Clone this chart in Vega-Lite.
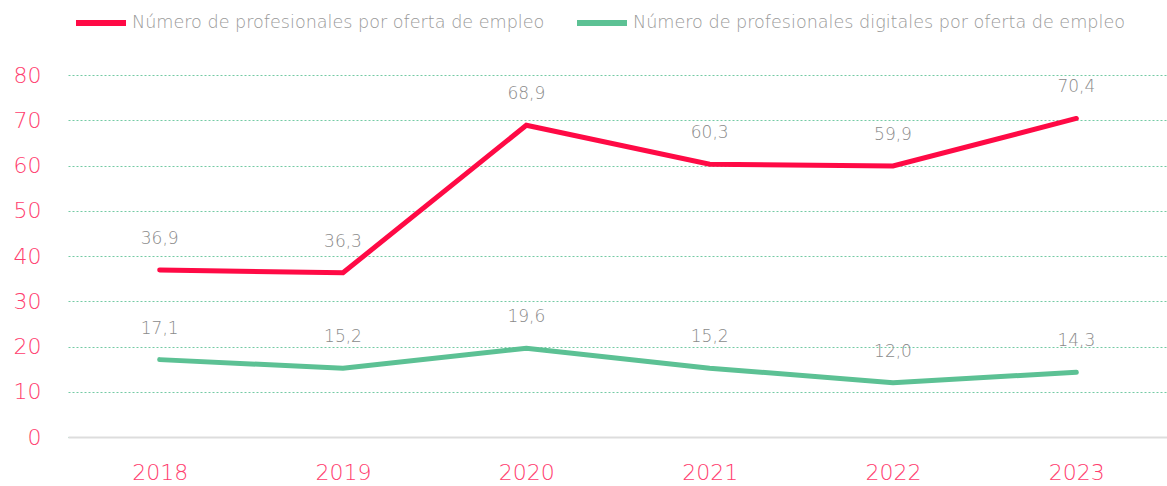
{
  "$schema": "https://vega.github.io/schema/vega-lite/v6.json",
  "width": 1100,
  "height": 362,
  "autosize": {"type": "none"},
  "padding": {"left": 68, "top": 75, "right": 0, "bottom": 49},
  "background": "white",
  "config": {
    "view": {"stroke": null},
    "font": "DejaVu Sans",
    "axis": {"labelFont": "DejaVu Sans", "labelFontWeight": 200}
  },
  "data": {
    "values": [
      {"year": "2018", "serie": "Número de profesionales por oferta de empleo", "value": 36.9, "label": "36,9"},
      {"year": "2019", "serie": "Número de profesionales por oferta de empleo", "value": 36.3, "label": "36,3"},
      {"year": "2020", "serie": "Número de profesionales por oferta de empleo", "value": 68.9, "label": "68,9"},
      {"year": "2021", "serie": "Número de profesionales por oferta de empleo", "value": 60.3, "label": "60,3"},
      {"year": "2022", "serie": "Número de profesionales por oferta de empleo", "value": 59.9, "label": "59,9"},
      {"year": "2023", "serie": "Número de profesionales por oferta de empleo", "value": 70.4, "label": "70,4"},
      {"year": "2018", "serie": "Número de profesionales digitales por oferta de empleo", "value": 17.1, "label": "17,1"},
      {"year": "2019", "serie": "Número de profesionales digitales por oferta de empleo", "value": 15.2, "label": "15,2"},
      {"year": "2020", "serie": "Número de profesionales digitales por oferta de empleo", "value": 19.6, "label": "19,6"},
      {"year": "2021", "serie": "Número de profesionales digitales por oferta de empleo", "value": 15.2, "label": "15,2"},
      {"year": "2022", "serie": "Número de profesionales digitales por oferta de empleo", "value": 12.0, "label": "12,0"},
      {"year": "2023", "serie": "Número de profesionales digitales por oferta de empleo", "value": 14.3, "label": "14,3"}
    ]
  },
  "encoding": {
    "x": {
      "field": "year", "type": "ordinal",
      "scale": {"type": "point", "padding": 0.5},
      "axis": {
        "title": null, "labelAngle": 0, "ticks": false,
        "domainColor": "#dddddd", "domainWidth": 2,
        "labelColor": "#ff3d6e", "labelFontSize": 22, "labelPadding": 25
      }
    },
    "y": {
      "field": "value", "type": "quantitative",
      "scale": {"domain": [0, 80], "nice": false},
      "axis": {
        "title": null, "values": [0, 10, 20, 30, 40, 50, 60, 70, 80],
        "ticks": false, "domain": false,
        "gridColor": "#5cc194", "gridDash": [2, 2], "gridWidth": 1, "gridOpacity": 0.85,
        "labelColor": "#ff3d6e", "labelFontSize": 22, "labelPadding": 27
      }
    },
    "color": {
      "field": "serie", "type": "nominal",
      "scale": {
        "domain": ["Número de profesionales por oferta de empleo", "Número de profesionales digitales por oferta de empleo"],
        "range": ["#ff0a45", "#5cc194"]
      },
      "legend": {
        "title": null, "orient": "none", "direction": "horizontal",
        "legendX": 5, "legendY": -80,
        "symbolType": "stroke", "symbolSize": 2500, "symbolStrokeWidth": 6,
        "labelFontSize": 17.6, "labelColor": "#999999", "labelFont": "DejaVu Sans", "labelFontWeight": 200,
        "labelOffset": 3, "columnPadding": 20, "labelLimit": 600
      }
    }
  },
  "layer": [
    {"mark": {"type": "line", "strokeWidth": 5, "strokeCap": "round", "strokeJoin": "miter"}},
    {
      "mark": {"type": "text", "dy": -31, "fontSize": 17, "font": "DejaVu Sans", "fontWeight": 200},
      "encoding": {"text": {"field": "label"}, "color": {"value": "#8a8a8a"}}
    }
  ]
}
